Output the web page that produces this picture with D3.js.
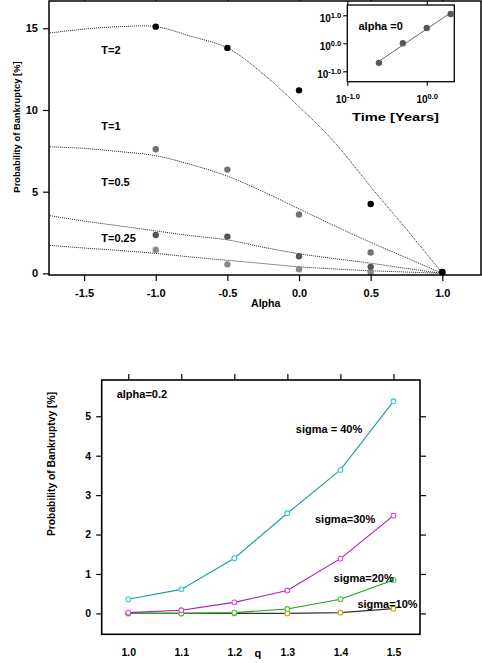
<!DOCTYPE html>
<html>
<head>
<meta charset="utf-8">
<script src="https://cdn.jsdelivr.net/npm/d3@7"></script>
<style>
  body { margin: 0; background: #fff; }
  svg text { font-family: "Liberation Sans", Arial, Helvetica, sans-serif; font-weight: bold; fill: #000; }
</style>
</head>
<body>
<div id="chart"></div>
<script>

// ---- top panel: probability vs alpha ----
let alphas = [-1.0, -0.5, 0.0, 0.5, 1.0];
let probT2 = [15.1, 13.8, 11.2, 4.25, 0.08];
let probT1 = [7.6, 6.35, 3.6, 1.28, 0.05];
let probT05 = [2.35, 2.25, 1.05, 0.4, 0.05];
let probT025 = [1.45, 0.55, 0.25, 0.08, 0.05];

// fitted curves
let curveAlpha = [-1.75, -1.5, -1.25, -1.0, -0.75, -0.5, -0.25, 0.0, 0.25, 0.5, 0.75, 1.0];
let fitT2 = [14.7, 14.95, 15.1, 15.1, 14.5, 13.8, 12.2, 10.2, 8.0, 5.3, 2.7, 0];
let fitT1 = [7.75, 7.65, 7.45, 7.2, 6.65, 5.95, 5.0, 3.95, 2.9, 1.9, 0.95, 0];
let fitT05 = [3.55, 3.2, 2.9, 2.6, 2.3, 2.05, 1.6, 1.2, 0.9, 0.62, 0.3, 0];
let fitT025 = [1.72, 1.55, 1.4, 1.22, 1.0, 0.8, 0.6, 0.4, 0.27, 0.16, 0.08, 0];

let seriesNames = ["T=0.25", "T=0.5", "T=1", "T=2"];
let seriesColors = ["#8a8a8a", "#555555", "#727272", "#000000"];
let labelPos = [[-1.38, 1.95], [-1.38, 5.35], [-1.38, 8.75], [-1.38, 13.4]];

// inset: alpha = 0
let timeYears = [0.25, 0.5, 1, 2];
let probAlpha0 = [0.2, 1.0, 3.5, 11.1];

// ---- bottom panel: probability vs q ----
let qVals = [1.0, 1.1, 1.2, 1.3, 1.4, 1.5];
let sigma40 = [0.36, 0.61, 1.40, 2.54, 3.64, 5.38];
let sigma30 = [0.02, 0.08, 0.28, 0.58, 1.39, 2.48];
let sigma20 = [0.0, 0.0, 0.02, 0.11, 0.36, 0.85];
let sigma10 = [0.0, 0.0, 0.0, 0.0, 0.02, 0.12];
let sigmaNames = ["sigma = 40%", "sigma=30%", "sigma=20%", "sigma=10%"];
let sigmaLine = ["#1a9c9c", "#a21fa8", "#22a022", "#333333"];
let sigmaMark = ["#2fcaca", "#e040e0", "#33d033", "#d39a00"];

let width = 482, height = 663;

let svg = d3.select("#chart").append("svg")
	.attr("width", width)
	.attr("height", height);

// ================= TOP PANEL =================
let x = d3.scaleLinear().domain([-1.745, 1.27]).range([49, 481]);
let y = d3.scaleLinear().domain([-0.1, 16.67]).range([275, 1]);

svg.append("clipPath").attr("id", "clipTop")
	.append("rect")
	.attr("x", 49).attr("y", 1).attr("width", 432).attr("height", 274);

let topPanel = svg.append("g");

let line = d3.line()
	.x(d => x(d[0]))
	.y(d => y(d[1]))
	.curve(d3.curveCatmullRom);

let fits = [fitT025, fitT05, fitT1, fitT2];
let probs = [probT025, probT05, probT1, probT2];

topPanel.append("g").attr("clip-path", "url(#clipTop)")
	.selectAll("path")
	.data(fits)
	.enter().append("path")
	.attr("d", f => line(curveAlpha.map((a, i) => [a, f[i]])))
	.attr("fill", "none")
	.attr("stroke", "#222")
	.attr("stroke-width", 1)
	.attr("stroke-dasharray", "1,1");

probs.forEach(function(p, k) {
	topPanel.append("g")
		.selectAll("circle")
		.data(alphas.map((a, i) => [a, p[i]]))
		.enter().append("circle")
		.attr("cx", d => x(d[0]))
		.attr("cy", d => y(d[1]))
		.attr("r", 3.2)
		.attr("fill", seriesColors[k]);
});

topPanel.append("g")
	.selectAll("text")
	.data(seriesNames)
	.enter().append("text")
	.attr("x", (d, i) => x(labelPos[i][0]))
	.attr("y", (d, i) => y(labelPos[i][1]))
	.attr("font-size", "11px")
	.text(d => d);

// axes
let yAxis = topPanel.append("g").attr("transform", "translate(49,0)")
	.call(d3.axisLeft(y).tickValues([0, 5, 10, 15]).tickFormat(d3.format("d")).tickSize(6).tickPadding(5));
let xAxis = topPanel.append("g").attr("transform", "translate(0,275)")
	.call(d3.axisBottom(x).tickValues([-1.5, -1.0, -0.5, 0.0, 0.5, 1.0]).tickSize(6).tickPadding(8));
let xTop = topPanel.append("g").attr("transform", "translate(0,1)")
	.call(d3.axisTop(x).tickValues([-1.5, -1.0, -0.5, 0.0, 0.5, 1.0]).tickFormat("").tickSize(6));

[yAxis, xAxis, xTop].forEach(function(a) {
	a.select(".domain").remove();
	a.selectAll("line").attr("stroke", "#000").attr("stroke-width", 1.2);
	a.selectAll("text").attr("font-size", "11px").attr("font-family", null).attr("fill", "#000");
});
xAxis.selectAll("text").text(d => d.toFixed(1));

topPanel.append("rect")
	.attr("x", 49).attr("y", 1).attr("width", 432).attr("height", 274)
	.attr("fill", "none").attr("stroke", "#000").attr("stroke-width", 1.5);

topPanel.append("text")
	.attr("transform", "translate(20,127) rotate(-90)")
	.attr("text-anchor", "middle")
	.attr("font-size", "9.4px")
	.text("Probability of Bankruptcy [%]");

topPanel.append("text")
	.attr("x", 251).attr("y", 307)
	.attr("font-size", "10.6px")
	.text("Alpha");

// ----- inset -----
let xi = d3.scaleLog().domain([0.1, 2.22]).range([347.3, 454.3]);
let yi = d3.scaleLog().domain([0.0425, 23.3]).range([81.7, 5]);

let inset = svg.append("g");
inset.append("rect")
	.attr("x", 347.3).attr("y", 5).attr("width", 107).attr("height", 76.7)
	.attr("fill", "#fff").attr("stroke", "#000").attr("stroke-width", 1.3);

// least squares line in log-log space
let lx = timeYears.map(Math.log10), ly = probAlpha0.map(Math.log10);
let mx = d3.mean(lx), my = d3.mean(ly);
let slope = d3.sum(lx.map((v, i) => (v - mx) * (ly[i] - my))) / d3.sum(lx.map(v => (v - mx) * (v - mx)));
let icpt = my - slope * mx;
let ends = [timeYears[0], timeYears[timeYears.length - 1]];
inset.append("line")
	.attr("x1", xi(ends[0])).attr("y1", yi(Math.pow(10, icpt + slope * Math.log10(ends[0]))))
	.attr("x2", xi(ends[1])).attr("y2", yi(Math.pow(10, icpt + slope * Math.log10(ends[1]))))
	.attr("stroke", "#666").attr("stroke-width", 1);

inset.selectAll("circle")
	.data(timeYears.map((t, i) => [t, probAlpha0[i]]))
	.enter().append("circle")
	.attr("cx", d => xi(d[0]))
	.attr("cy", d => yi(d[1]))
	.attr("r", 3.2)
	.attr("fill", "#585858");

function powLabel(sel, exps) {
	sel.each(function(d, i) {
		let t = d3.select(this).text("").attr("font-weight", "normal");
		t.append("tspan").text("10");
		t.append("tspan").attr("dy", "-0.45em").attr("font-size", "7.5px").text(exps[i]);
	});
}

let iyAxis = inset.append("g").attr("transform", "translate(347.3,0)")
	.call(d3.axisLeft(yi).tickValues([0.1, 1, 10]).tickSize(4).tickPadding(2));
let ixAxis = inset.append("g").attr("transform", "translate(0,81.7)")
	.call(d3.axisBottom(xi).tickValues([0.1, 1]).tickSize(4).tickPadding(7));
let ixTop = inset.append("g").attr("transform", "translate(0,5)")
	.call(d3.axisTop(xi).tickValues([0.1, 1]).tickFormat("").tickSize(4));
[iyAxis, ixAxis, ixTop].forEach(function(a) {
	a.select(".domain").remove();
	a.selectAll("line").attr("stroke", "#000").attr("stroke-width", 1.1);
	a.selectAll("text").attr("font-size", "10px").attr("font-family", null).attr("fill", "#000");
});
iyAxis.selectAll("text").attr("dy", "0.6em");
powLabel(iyAxis.selectAll("text"), ["-1.0", "0.0", "1.0"]);
ixAxis.selectAll("text").attr("dy", "1em");
powLabel(ixAxis.selectAll("text"), ["-1.0", "0.0"]);

inset.append("text")
	.attr("x", 358.5).attr("y", 29.5)
	.attr("font-size", "11px")
	.text("alpha =0");

inset.append("text")
	.attr("x", 352).attr("y", 121)
	.attr("font-size", "11.5px")
	.attr("textLength", 87)
	.attr("lengthAdjust", "spacingAndGlyphs")
	.text("Time [Years]");

// ================= BOTTOM PANEL =================
let x2 = d3.scaleLinear().domain([0.95, 1.55]).range([101.7, 420]);
let y2 = d3.scaleLinear().domain([-0.53, 5.92]).range([634.3, 380]);

let bot = svg.append("g");
let line2 = d3.line().x(d => x2(d[0])).y(d => y2(d[1]));

let sigmas = [sigma40, sigma30, sigma20, sigma10];
for (let k = sigmas.length - 1; k >= 0; k--) {
	let pts = qVals.map((q, i) => [q, sigmas[k][i]]);
	let g = bot.append("g");
	g.append("path")
		.attr("d", line2(pts))
		.attr("fill", "none")
		.attr("stroke", sigmaLine[k])
		.attr("stroke-width", 1.1);
	g.selectAll("circle")
		.data(pts)
		.enter().append("circle")
		.attr("cx", d => x2(d[0]))
		.attr("cy", d => y2(d[1]))
		.attr("r", 2.4)
		.attr("fill", "#fff")
		.attr("stroke", sigmaMark[k])
		.attr("stroke-width", 1.1);
}

let sigmaLabelPos = [[1.316, 4.57], [1.352, 2.285], [1.387, 0.80], [1.432, 0.13]];
bot.append("g")
	.selectAll("text")
	.data(sigmaNames)
	.enter().append("text")
	.attr("x", (d, i) => x2(sigmaLabelPos[i][0]))
	.attr("y", (d, i) => y2(sigmaLabelPos[i][1]))
	.attr("font-size", "11px")
	.text(d => d);

let y2Axis = bot.append("g").attr("transform", "translate(101.7,0)")
	.call(d3.axisLeft(y2).tickValues([0, 1, 2, 3, 4, 5]).tickFormat(d3.format("d")).tickSize(5.5).tickPadding(5));
let y2Right = bot.append("g").attr("transform", "translate(420,0)")
	.call(d3.axisRight(y2).tickValues([0, 1, 2, 3, 4, 5]).tickFormat("").tickSize(6));
let x2Axis = bot.append("g").attr("transform", "translate(0,634.3)")
	.call(d3.axisBottom(x2).tickValues(qVals).tickFormat(d3.format(".1f")).tickSize(0).tickPadding(14));
let x2Top = bot.append("g").attr("transform", "translate(0,380)")
	.call(d3.axisTop(x2).tickValues(qVals).tickFormat("").tickSize(6));
[y2Axis, y2Right, x2Axis, x2Top].forEach(function(a) {
	a.select(".domain").remove();
	a.selectAll("line").attr("stroke", "#000").attr("stroke-width", 1.2);
	a.selectAll("text").attr("font-size", "10.5px").attr("font-family", null).attr("fill", "#000");
});

bot.append("rect")
	.attr("x", 101.7).attr("y", 380).attr("width", 318.3).attr("height", 254.3)
	.attr("fill", "none").attr("stroke", "#000").attr("stroke-width", 1.6);

bot.append("text")
	.attr("x", 116.7).attr("y", 398.3)
	.attr("font-size", "11px")
	.text("alpha=0.2");

bot.append("text")
	.attr("transform", "translate(55,464) rotate(-90)")
	.attr("text-anchor", "middle")
	.attr("font-size", "10.3px")
	.text("Probability of Bankruptvy [%]");

bot.append("text")
	.attr("x", 254.5).attr("y", 657)
	.attr("font-size", "11px")
	.text("q");

</script>
</body>
</html>
